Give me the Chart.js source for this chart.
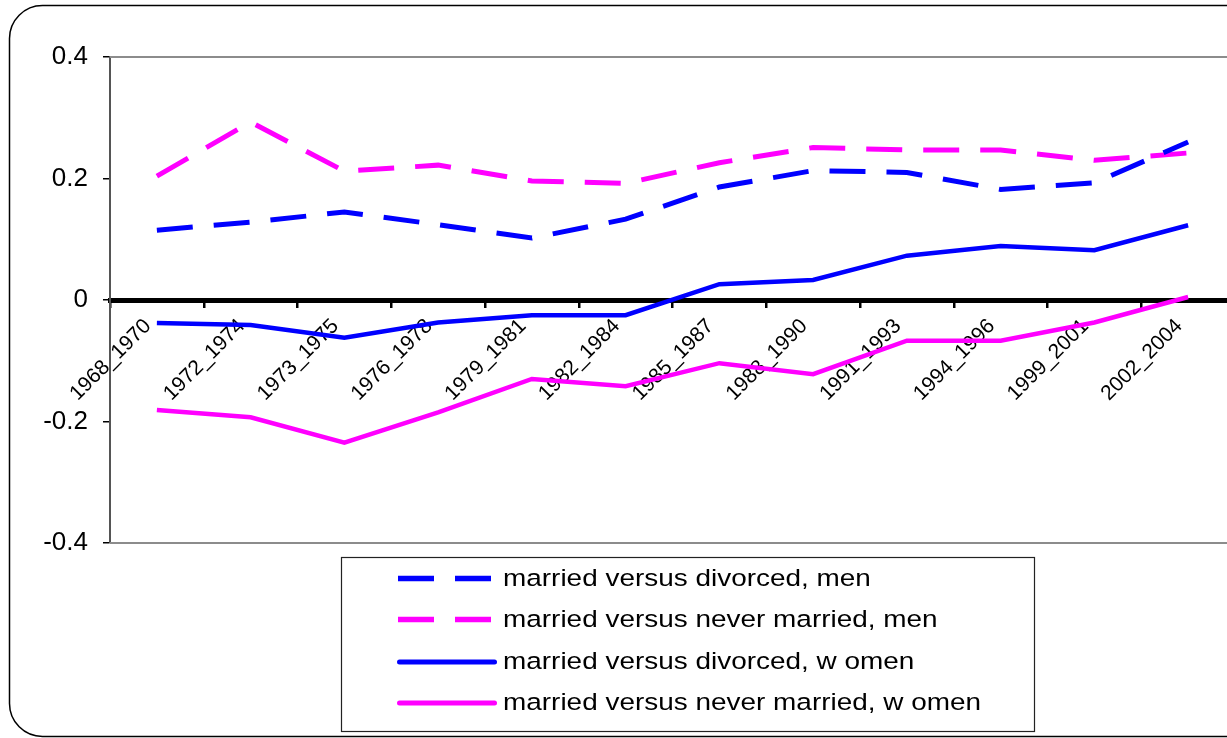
<!DOCTYPE html>
<html><head><meta charset="utf-8">
<script src="https://cdn.jsdelivr.net/npm/chart.js@4.4.1/dist/chart.umd.min.js"></script>
<style>
html,body{margin:0;padding:0;background:#fff;overflow:hidden;width:1227px;height:738px;}
#wrap{position:relative;width:1245px;height:738px;}
</style></head><body>
<div id="wrap"><canvas id="c" width="1245" height="738"></canvas></div>
<script>
const categories = ['1968_1970','1972_1974','1973_1975','1976_1978','1979_1981','1982_1984','1985_1987','1988_1990','1991_1993','1994_1996','1999_2001','2002_2004'];
const divorcedMen     = [0.115, 0.128, 0.145, 0.124, 0.102, 0.133, 0.186, 0.213, 0.210, 0.182, 0.193, 0.260];
const neverMarriedMen = [0.204, 0.293, 0.212, 0.222, 0.196, 0.192, 0.226, 0.251, 0.247, 0.247, 0.230, 0.242];
const divorcedWomen   = [-0.038, -0.041, -0.062, -0.037, -0.025, -0.025, 0.026, 0.033, 0.073, 0.089, 0.082, 0.123];
const neverMarriedWomen = [-0.181, -0.193, -0.235, -0.185, -0.130, -0.142, -0.104, -0.122, -0.067, -0.067, -0.037, 0.005];
const seriesLabels = ['married versus divorced, men','married versus never married, men','married versus divorced, w omen','married versus never married, w omen'];
const yMin = -0.4, yMax = 0.4, yStep = 0.2;

const FONT = "'Liberation Sans', Arial, sans-serif";
const BLUE = '#0000FF', MAGENTA = '#FF00FF';
const DASH = [36, 21];

const framePlugin = {
  id: 'frame',
  beforeDraw(chart) {
    const ctx = chart.ctx;
    ctx.save();
    ctx.fillStyle = '#fff';
    ctx.fillRect(0, 0, chart.width, chart.height);
    const x = 9.5, y = 5.5, w = 1400, h = 731, r = 33;
    ctx.beginPath();
    ctx.moveTo(x + r, y);
    ctx.lineTo(x + w, y);
    ctx.lineTo(x + w, y + h);
    ctx.lineTo(x + r, y + h);
    ctx.arcTo(x, y + h, x, y + h - r, r);
    ctx.lineTo(x, y + r);
    ctx.arcTo(x, y, x + r, y, r);
    ctx.closePath();
    ctx.strokeStyle = '#000';
    ctx.lineWidth = 1.5;
    ctx.stroke();
    ctx.restore();
  },
  beforeDatasetsDraw(chart) {
    const {ctx, chartArea: a} = chart;
    ctx.save();
    ctx.strokeStyle = '#8c8c8c';
    ctx.lineWidth = 2;
    ctx.beginPath();
    ctx.moveTo(a.left, a.top); ctx.lineTo(a.right + 20, a.top);
    ctx.moveTo(a.left, a.bottom); ctx.lineTo(a.right + 20, a.bottom);
    ctx.stroke();
    ctx.restore();
  }
};

const legendPlugin = {
  id: 'boxLegend',
  afterDraw(chart) {
    const ctx = chart.ctx;
    const bx = 341.5, by = 557.5, bw = 693, bh = 174;
    ctx.save();
    ctx.fillStyle = '#fff';
    ctx.fillRect(bx, by, bw, bh);
    ctx.strokeStyle = '#222';
    ctx.lineWidth = 1.2;
    ctx.strokeRect(bx, by, bw, bh);
    const lineRows = [578.5, 619.5, 662, 703];
    const textBase = [586, 627, 669, 710];
    chart.data.datasets.forEach((ds, i) => {
      const yy = lineRows[i];
      const dashed = ds.borderDash && ds.borderDash.length;
      ctx.strokeStyle = ds.borderColor;
      ctx.lineWidth = dashed ? 5.5 : 5;
      ctx.lineCap = dashed ? 'butt' : 'round';
      ctx.setLineDash(dashed ? ds.borderDash : []);
      ctx.beginPath();
      if (dashed) { ctx.moveTo(398, yy); ctx.lineTo(492, yy); }
      else { ctx.moveTo(399.5, yy); ctx.lineTo(494.5, yy); }
      ctx.stroke();
      ctx.setLineDash([]);
      ctx.save();
      ctx.translate(503, textBase[i]);
      ctx.scale(1.14, 1);
      ctx.fillStyle = '#000';
      ctx.font = '24.5px ' + FONT;
      ctx.textBaseline = 'alphabetic';
      ctx.textAlign = 'left';
      ctx.fillText(ds.label, 0, 0);
      ctx.restore();
    });
    ctx.restore();
  }
};

new Chart(document.getElementById('c'), {
  type: 'line',
  data: {
    labels: categories,
    datasets: [
      {label: seriesLabels[0], data: divorcedMen, borderColor: BLUE, borderWidth: 5, borderDash: DASH},
      {label: seriesLabels[1], data: neverMarriedMen, borderColor: MAGENTA, borderWidth: 5, borderDash: DASH},
      {label: seriesLabels[2], data: divorcedWomen, borderColor: BLUE, borderWidth: 4.5},
      {label: seriesLabels[3], data: neverMarriedWomen, borderColor: MAGENTA, borderWidth: 4.5}
    ].map(d => Object.assign({pointRadius: 0, pointHoverRadius: 0, tension: 0, fill: false, backgroundColor: d.borderColor}, d))
  },
  options: {
    responsive: false,
    devicePixelRatio: 1,
    animation: false,
    events: [],
    layout: {padding: {left: 0, top: 57, right: 10, bottom: 195}},
    plugins: {legend: {display: false}, tooltip: {enabled: false}, title: {display: false}},
    scales: {
      x: {
        type: 'category',
        offset: true,
        position: {y: 0},
        grid: {display: true, drawOnChartArea: false, drawTicks: true, tickLength: 5, color: '#000', lineWidth: 2.5, offset: true},
        border: {display: true, color: '#000', width: 5},
        ticks: {minRotation: 45, maxRotation: 45, autoSkip: false, color: '#000', font: {family: FONT, size: 21}, padding: 9, labelOffset: -9}
      },
      y: {
        type: 'linear',
        position: 'left',
        min: yMin, max: yMax,
        afterFit(scale) { scale.width = 110; },
        grid: {display: true, drawOnChartArea: false, drawTicks: true, tickLength: 7, color: '#000', lineWidth: 1.5},
        border: {display: true, color: '#555', width: 2},
        ticks: {stepSize: yStep, color: '#000', font: {family: FONT, size: 26}, padding: 15,
          callback: v => { const n = Math.round(v * 10) / 10; return (n === 0 ? 0 : n).toString(); }}
      }
    }
  },
  plugins: [framePlugin, legendPlugin]
});
</script>
</body></html>
